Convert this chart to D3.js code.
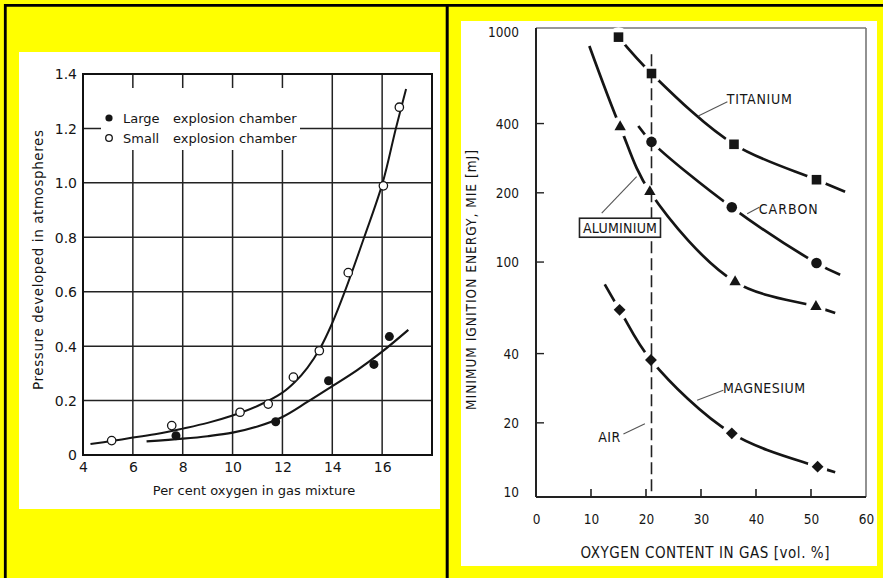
<!DOCTYPE html>
<html><head><meta charset="utf-8">
<script src="https://cdn.jsdelivr.net/npm/d3@7"></script>
<style>html,body{margin:0;padding:0;background:#ffff00;overflow:hidden}svg{display:block}</style>
</head><body>
<svg id="c" width="883" height="578"></svg>
<script>
// ---------- LEFT CHART DATA ----------
const leftXTicks = [4, 6, 8, 10, 12, 14, 16];
const leftXTickLabels = ["4", "6", "8", "10", "12", "14", "16"];
const leftYTicks = [0, 0.2, 0.4, 0.6, 0.8, 1.0, 1.2, 1.4];
const leftYTickLabels = ["0", "0.2", "0.4", "0.6", "0.8", "1.0", "1.2", "1.4"];
const leftGridX = [6, 8, 10, 12, 14, 16];
const leftGridY = [0.2, 0.4, 0.6, 0.8, 1.0, 1.2];
const smallChamberX = [5.15, 7.56, 10.3, 11.43, 12.44, 13.48, 14.64, 16.05, 16.69];
const smallChamberY = [0.053, 0.108, 0.157, 0.187, 0.286, 0.383, 0.67, 0.989, 1.278];
const largeChamberX = [7.73, 11.73, 13.85, 15.67, 16.29];
const largeChamberY = [0.071, 0.122, 0.273, 0.333, 0.435];
const smallCurveX = [4.3, 5.2, 6, 7, 8, 9, 10, 11, 12, 12.5, 13, 13.5, 14, 14.5, 15.28, 16.02, 16.55, 16.96];
const smallCurveY = [0.04, 0.052, 0.064, 0.078, 0.097, 0.118, 0.145, 0.18, 0.229, 0.268, 0.32, 0.39, 0.485, 0.6, 0.8, 1.0, 1.2, 1.345];
const largeCurveX = [6.55, 8, 9, 10, 11, 12, 13, 14, 15, 16, 17.05];
const largeCurveY = [0.05, 0.06, 0.069, 0.082, 0.105, 0.14, 0.195, 0.253, 0.312, 0.38, 0.46];

// ---------- RIGHT CHART DATA ----------
const rightXTicks = [0, 10, 20, 30, 40, 50, 60];
const rightXMinorTicks = [10, 20, 30, 40, 50];
const rightYTicks = [10, 20, 40, 100, 200, 400, 1000];
const rightYMinorTicks = [20, 40, 100, 200, 400];
const titaniumX = [15, 21, 36, 51];
const titaniumY = [950, 660, 325, 228];
const carbonX = [21, 35.6, 51];
const carbonY = [333, 173, 99];
const aluminiumX = [15.3, 20.7, 36.2, 50.9];
const aluminiumY = [387, 202, 82, 64];
const magnesiumX = [15.2, 20.9, 35.6, 51.2];
const magnesiumY = [62, 37.5, 18, 12.9];
const titaniumCurveX = [15, 21, 36, 51, 56.2];
const titaniumCurveY = [950, 660, 325, 228, 202];
const carbonCurveX = [18.6, 21, 35.6, 51, 55.3];
const carbonCurveY = [390, 333, 173, 99, 88];
const aluminiumCurveX = [9.7, 15.3, 20.7, 36.2, 50.9, 54.4];
const aluminiumCurveY = [870, 387, 202, 82, 64, 60];
const magnesiumCurveX = [12.5, 15.2, 20.9, 35.6, 51.2, 54.4];
const magnesiumCurveY = [80, 62, 37.5, 18, 12.9, 12.2];
const airOxygen = 21;
const airRange = [9.52, 800];

const zip = (xs, ys) => xs.map((x, i) => [x, ys[i]]);
const svg = d3.select("#c");
const ink = "#151515";

// panels
svg.append("rect").attr("x", 19).attr("y", 52).attr("width", 421).attr("height", 457).attr("fill", "#fff");
svg.append("rect").attr("x", 461).attr("y", 21).attr("width", 416).attr("height", 545).attr("fill", "#fff");
// frame
svg.append("line").attr("x1", 4).attr("x2", 883).attr("y1", 5.3).attr("y2", 5.3).attr("stroke", "#000").attr("stroke-width", 2.8);
svg.append("line").attr("x1", 5.3).attr("x2", 5.3).attr("y1", 4).attr("y2", 578).attr("stroke", "#000").attr("stroke-width", 2.8);
svg.append("line").attr("x1", 447.2).attr("x2", 447.2).attr("y1", 4).attr("y2", 578).attr("stroke", "#000").attr("stroke-width", 3);

// ================= LEFT CHART =================
const xL = d3.scaleLinear().domain([4, 18]).range([83, 432]);
const yL = d3.scaleLinear().domain([0, 1.4]).range([455, 74]);
const gL = svg.append("g");
const fontL = "'DejaVu Sans', sans-serif";

gL.selectAll(".gx").data(leftGridX).join("line")
  .attr("x1", d => xL(d)).attr("x2", d => xL(d)).attr("y1", yL(0)).attr("y2", yL(1.4))
  .attr("stroke", "#222").attr("stroke-width", 1.5);
gL.selectAll(".gy").data(leftGridY).join("line")
  .attr("x1", xL(4)).attr("x2", xL(18)).attr("y1", d => yL(d)).attr("y2", d => yL(d))
  .attr("stroke", "#222").attr("stroke-width", 1.5);
gL.append("rect").attr("x", xL(4)).attr("y", yL(1.4)).attr("width", xL(18) - xL(4)).attr("height", yL(0) - yL(1.4))
  .attr("fill", "none").attr("stroke", "#111").attr("stroke-width", 2);
// legend background (gridlines interrupted)
gL.append("rect").attr("x", 101).attr("y", 88).attr("width", 199).attr("height", 62).attr("fill", "#fff");

// axes (labels only)
const axLB = gL.append("g").attr("transform", `translate(0,${yL(0)})`)
  .call(d3.axisBottom(xL).tickValues(leftXTicks).tickSize(0).tickFormat((d, i) => leftXTickLabels[i]));
axLB.select(".domain").remove();
axLB.selectAll("text").attr("y", 12).attr("dy", "0.35em").attr("font-family", fontL).attr("font-size", 14).attr("fill", ink);
const axLL = gL.append("g").attr("transform", `translate(${xL(4)},0)`)
  .call(d3.axisLeft(yL).tickValues(leftYTicks).tickSize(0).tickFormat((d, i) => leftYTickLabels[i]));
axLL.select(".domain").remove();
axLL.selectAll("text").attr("x", -6).attr("dy", "0.35em").attr("font-family", fontL).attr("font-size", 14).attr("fill", ink);

// curves
const lineL = d3.line().x(d => xL(d[0])).y(d => yL(d[1])).curve(d3.curveCatmullRom.alpha(0.5));
gL.append("path").attr("d", lineL(zip(smallCurveX, smallCurveY))).attr("fill", "none").attr("stroke", ink).attr("stroke-width", 2);
gL.append("path").attr("d", lineL(zip(largeCurveX, largeCurveY))).attr("fill", "none").attr("stroke", ink).attr("stroke-width", 2.2);

// points
gL.selectAll(".sp").data(zip(smallChamberX, smallChamberY)).join("circle")
  .attr("cx", d => xL(d[0])).attr("cy", d => yL(d[1])).attr("r", 4.2)
  .attr("fill", "#fff").attr("stroke", ink).attr("stroke-width", 1.3);
gL.selectAll(".lp").data(zip(largeChamberX, largeChamberY)).join("circle")
  .attr("cx", d => xL(d[0])).attr("cy", d => yL(d[1])).attr("r", 4.5).attr("fill", ink);

// legend
gL.append("circle").attr("cx", 109).attr("cy", 118).attr("r", 3.6).attr("fill", ink);
gL.append("circle").attr("cx", 109).attr("cy", 138).attr("r", 3.3).attr("fill", "#fff").attr("stroke", ink).attr("stroke-width", 1.3);
const legRows = [["Large", 118], ["Small", 138]];
legRows.forEach(([w, y]) => {
  gL.append("text").attr("x", 123).attr("y", y).attr("dy", "0.35em").text(w)
    .attr("font-family", fontL).attr("font-size", 13).attr("fill", ink);
  gL.append("text").attr("x", 173).attr("y", y).attr("dy", "0.35em").text("explosion chamber")
    .attr("font-family", fontL).attr("font-size", 13).attr("fill", ink);
});

// titles
gL.append("text").attr("x", 254).attr("y", 490).attr("dy", "0.35em").attr("text-anchor", "middle")
  .attr("font-family", fontL).attr("font-size", 13).attr("fill", ink).text("Per cent oxygen in gas mixture");
gL.append("text").attr("transform", "translate(38,260) rotate(-90)").attr("dy", "0.35em").attr("text-anchor", "middle")
  .attr("font-family", fontL).attr("font-size", 13.5).attr("fill", ink)
  .attr("textLength", 260).attr("lengthAdjust", "spacing").text("Pressure developed in atmospheres");

// ================= RIGHT CHART =================
const xR = d3.scaleLinear().domain([0, 60]).range([536, 866]);
const yR = d3.scaleLog().domain([9.52, 1041]).range([497, 28]);
const gR = svg.append("g");
const fontR = "'DejaVu Sans Condensed', 'DejaVu Sans', sans-serif";

// box
gR.append("line").attr("x1", xR(0)).attr("x2", xR(60)).attr("y1", yR.range()[1]).attr("y2", yR.range()[1]).attr("stroke", "#777").attr("stroke-width", 1.6);
gR.append("line").attr("x1", xR(60)).attr("x2", xR(60)).attr("y1", yR.range()[1]).attr("y2", yR.range()[0]).attr("stroke", "#777").attr("stroke-width", 1.6);
gR.append("line").attr("x1", xR(0)).attr("x2", xR(0)).attr("y1", yR.range()[1]).attr("y2", yR.range()[0]).attr("stroke", "#222").attr("stroke-width", 2);
gR.append("line").attr("x1", xR(0)).attr("x2", xR(60)).attr("y1", yR.range()[0]).attr("y2", yR.range()[0]).attr("stroke", "#222").attr("stroke-width", 2);

// axes
const axRB = gR.append("g").attr("transform", `translate(0,${yR.range()[0]})`)
  .call(d3.axisBottom(xR).tickValues(rightXTicks).tickSize(0).tickFormat(d3.format("d")));
axRB.select(".domain").remove();
axRB.selectAll("text").attr("y", 22).attr("dy", "0.35em").attr("font-family", fontR).attr("font-size", 13.5).attr("fill", ink);
gR.selectAll(".xt").data(rightXMinorTicks).join("line")
  .attr("x1", d => xR(d)).attr("x2", d => xR(d)).attr("y1", yR.range()[0]).attr("y2", yR.range()[0] - 8)
  .attr("stroke", "#222").attr("stroke-width", 1.6);
const axRL = gR.append("g").attr("transform", `translate(${xR(0)},0)`)
  .call(d3.axisLeft(yR).tickValues(rightYTicks).tickSize(0).tickFormat(d3.format("d")));
axRL.select(".domain").remove();
axRL.selectAll("text").attr("x", -17).attr("dy", "0.35em").attr("font-family", fontR).attr("font-size", 13.5).attr("fill", ink);
gR.selectAll(".yt").data(rightYMinorTicks).join("line")
  .attr("x1", xR(0)).attr("x2", xR(0) + 8).attr("y1", d => yR(d)).attr("y2", d => yR(d))
  .attr("stroke", "#222").attr("stroke-width", 1.4);

// curves
const lineR = d3.line().x(d => xR(d[0])).y(d => yR(d[1])).curve(d3.curveCatmullRom.alpha(0.5));
[[titaniumCurveX, titaniumCurveY], [carbonCurveX, carbonCurveY], [aluminiumCurveX, aluminiumCurveY], [magnesiumCurveX, magnesiumCurveY]]
  .forEach(([xs, ys]) => gR.append("path").attr("d", lineR(zip(xs, ys))).attr("fill", "none")
    .attr("stroke", ink).attr("stroke-width", 2.7).attr("stroke-linecap", "butt"));
// white gaps around markers
const allPts = [].concat(zip(titaniumX, titaniumY), zip(carbonX, carbonY), zip(aluminiumX, aluminiumY), zip(magnesiumX, magnesiumY));
gR.selectAll(".halo").data(allPts).join("circle")
  .attr("cx", d => xR(d[0])).attr("cy", d => yR(d[1])).attr("r", 10).attr("fill", "#fff");

// AIR line
gR.append("line").attr("x1", xR(airOxygen)).attr("x2", xR(airOxygen)).attr("y1", yR(airRange[1])).attr("y2", yR(airRange[0]))
  .attr("stroke", "#222").attr("stroke-width", 1.6).attr("stroke-dasharray", "12,5");

// leaders
const leaders = [
  [[34.8, 498], [29.5, 431]],
  [[40.6, 173], [38.4, 162]],
  [[11.95, 163], [18.3, 235]],
  [[34.05, 27.7], [29.3, 25.1]],
  [[15.9, 17.9], [19.8, 19.8]]
];
leaders.forEach(([a, b]) => gR.append("line")
  .attr("x1", xR(a[0])).attr("y1", yR(a[1])).attr("x2", xR(b[0])).attr("y2", yR(b[1]))
  .attr("stroke", "#555").attr("stroke-width", 1.1));

// markers
const sym = (type, size) => d3.symbol().type(type).size(size)();
gR.selectAll(".ti").data(zip(titaniumX, titaniumY)).join("path")
  .attr("transform", d => `translate(${xR(d[0])},${yR(d[1])})`).attr("d", sym(d3.symbolSquare, 92)).attr("fill", ink);
gR.selectAll(".ca").data(zip(carbonX, carbonY)).join("path")
  .attr("transform", d => `translate(${xR(d[0])},${yR(d[1])})`).attr("d", sym(d3.symbolCircle, 88)).attr("fill", ink);
gR.selectAll(".al").data(zip(aluminiumX, aluminiumY)).join("path")
  .attr("transform", d => `translate(${xR(d[0])},${yR(d[1])})`).attr("d", sym(d3.symbolTriangle, 56)).attr("fill", ink);
gR.selectAll(".mg").data(zip(magnesiumX, magnesiumY)).join("path")
  .attr("transform", d => `translate(${xR(d[0])},${yR(d[1])}) rotate(45)`).attr("d", sym(d3.symbolSquare, 70)).attr("fill", ink);

// labels
const lab = (x, v, t, len) => gR.append("text").attr("x", xR(x)).attr("y", yR(v)).attr("dy", "0.35em")
  .attr("font-family", fontR).attr("font-size", 14).attr("fill", ink)
  .attr("textLength", len).attr("lengthAdjust", "spacing").text(t);
lab(34.7, 511, "TITANIUM", 65);
lab(40.5, 170, "CARBON", 59);
lab(34.0, 28.3, "MAGNESIUM", 82);
lab(11.3, 17.3, "AIR", 22);
// aluminium box
const bx = xR(15.27), by = yR(141);
gR.append("rect").attr("x", bx - 40.5).attr("y", by - 9.5).attr("width", 81).attr("height", 19)
  .attr("fill", "#fff").attr("stroke", "#222").attr("stroke-width", 1.6);
gR.append("text").attr("x", bx).attr("y", by).attr("dy", "0.36em").attr("text-anchor", "middle")
  .attr("font-family", fontR).attr("font-size", 14).attr("fill", ink)
  .attr("textLength", 74).attr("lengthAdjust", "spacing").text("ALUMINIUM");

// titles
gR.append("text").attr("x", 705).attr("y", 553).attr("dy", "0.35em").attr("text-anchor", "middle")
  .attr("font-family", fontR).attr("font-size", 15).attr("fill", ink)
  .attr("textLength", 249).attr("lengthAdjust", "spacing").text("OXYGEN CONTENT IN GAS [vol. %]");
gR.append("text").attr("transform", "translate(471,280) rotate(-90)").attr("dy", "0.35em").attr("text-anchor", "middle")
  .attr("font-family", fontR).attr("font-size", 13.5).attr("fill", ink)
  .attr("textLength", 260).attr("lengthAdjust", "spacing").text("MINIMUM IGNITION ENERGY, MIE [mJ]");
</script>
</body></html>
